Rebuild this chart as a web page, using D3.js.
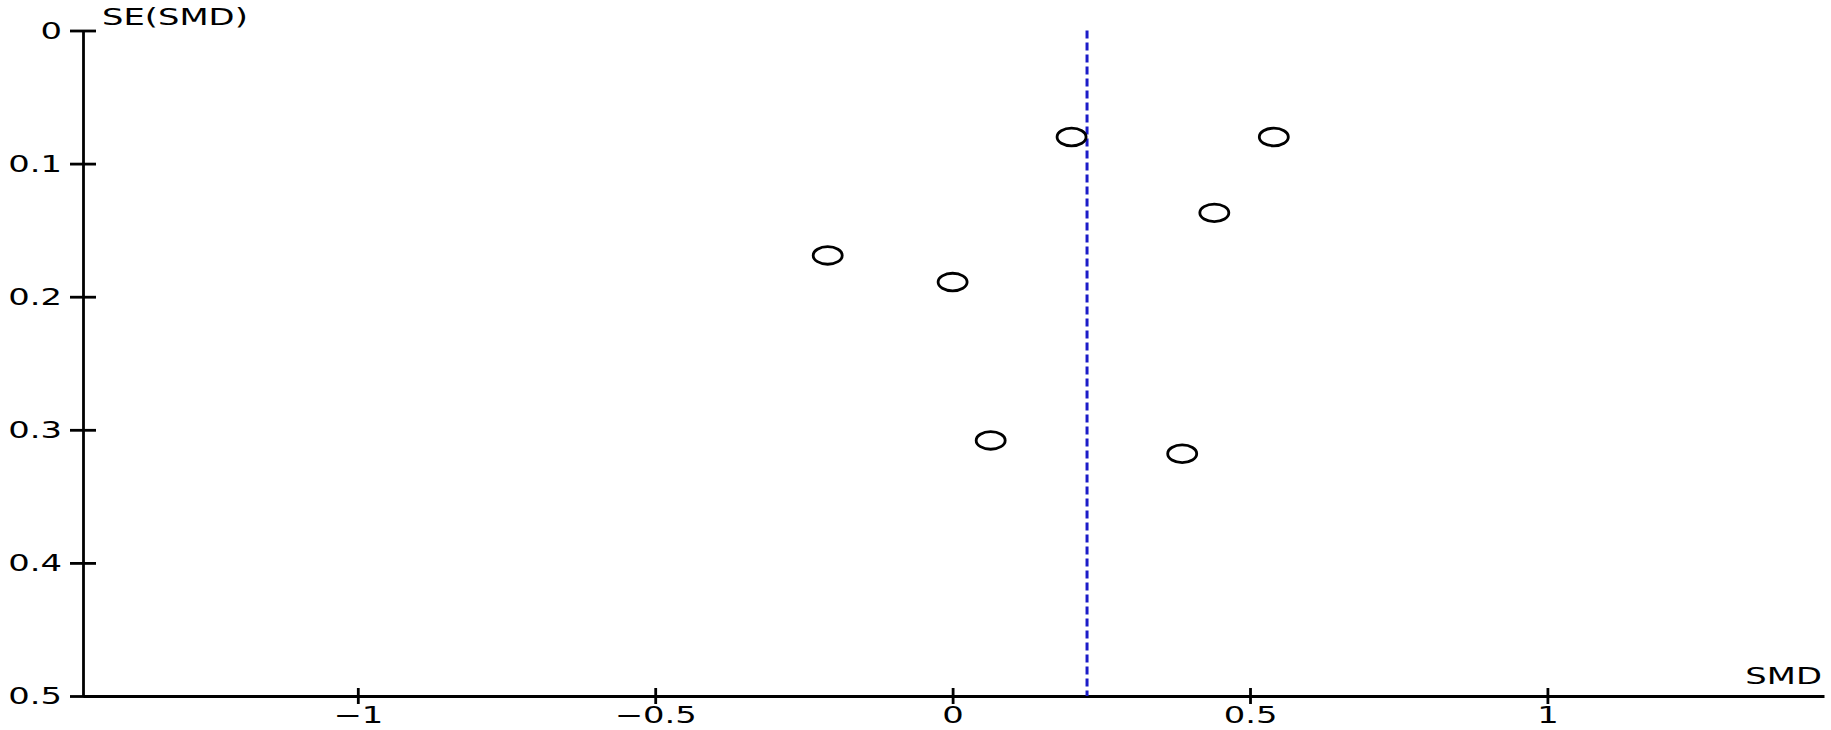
<!doctype html>
<html>
<head>
<meta charset="utf-8">
<style>
  body { margin: 0; background: #fff; }
  text { font-family: "DejaVu Sans", sans-serif; font-size: 23px; fill: #000; }
</style>
<script src="https://d3js.org/d3.v7.min.js"></script>
</head>
<body>
<svg width="1831" height="730"></svg>
<script>
// study estimates
var smd = [0.20, 0.54, 0.44, -0.21, 0.00, 0.064, 0.386];
var se  = [0.08, 0.08, 0.137, 0.169, 0.189, 0.308, 0.318];
var pooled = 0.226;

var xTicks = [-1, -0.5, 0, 0.5, 1];
var yTicks = [0, 0.1, 0.2, 0.3, 0.4, 0.5];

var svg = d3.select("svg"),
    sx = 1.47;   // the original's text is stretched sideways

var x = d3.scaleLinear().domain([-1.462, 1.465]).range([83, 1824]),
    y = d3.scaleLinear().domain([0, 0.5]).range([30.5, 696]);

var fmt = d3.format("~g");

// y axis
var gy = svg.append("g")
    .attr("transform", "translate(" + x.range()[0] + ",0)")
    .call(d3.axisLeft(y).tickValues(yTicks).tickFormat(fmt).tickSizeOuter(0));
gy.select(".domain").attr("stroke-width", 2.8);
gy.selectAll(".tick line").attr("x1", -13).attr("x2", 13).attr("stroke-width", 2.8);
gy.selectAll(".tick text")
    .attr("x", 0).attr("dy", "0.33em")
    .attr("text-anchor", "end")
    .attr("transform", "translate(-21,0) scale(" + sx + ",1)");
gy.attr("font-size", null).attr("font-family", null);

// x axis
var gx = svg.append("g")
    .attr("transform", "translate(0," + y.range()[1] + ")")
    .call(d3.axisBottom(x).tickValues(xTicks).tickFormat(fmt).tickSizeOuter(0));
gx.select(".domain").attr("stroke-width", 2.8);
gx.selectAll(".tick line").attr("y1", -8).attr("y2", 8).attr("stroke-width", 2.8);
gx.selectAll(".tick text")
    .attr("y", 0).attr("dy", 0)
    .attr("text-anchor", "middle")
    .attr("transform", "translate(0,27) scale(" + sx + ",1)");
gx.attr("font-size", null).attr("font-family", null);

// axis titles
svg.append("text")
    .attr("transform", "translate(102,25) scale(" + sx + ",1)")
    .text("SE(SMD)");
svg.append("text")
    .attr("text-anchor", "end")
    .attr("transform", "translate(1822,684) scale(" + sx + ",1)")
    .text("SMD");

// pooled estimate
svg.append("line")
    .attr("x1", x(pooled)).attr("x2", x(pooled))
    .attr("y1", y(0)).attr("y2", y(0.5))
    .attr("stroke", "#1c1cc8")
    .attr("stroke-width", 3)
    .attr("stroke-dasharray", "8,4");

// studies
svg.selectAll(".study")
    .data(smd).enter()
    .append("ellipse")
    .attr("class", "study")
    .attr("cx", function(d) { return x(d); })
    .attr("cy", function(d, i) { return y(se[i]); })
    .attr("rx", 14.5)
    .attr("ry", 8.8)
    .attr("fill", "none")
    .attr("stroke", "#000")
    .attr("stroke-width", 2.8);
</script>
</body>
</html>
